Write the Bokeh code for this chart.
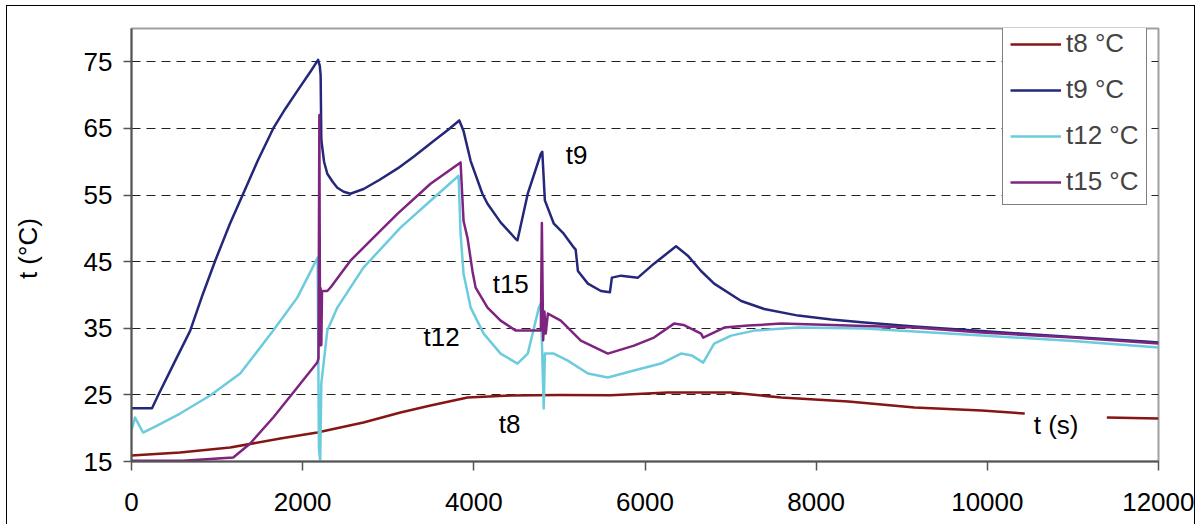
import numpy as np
from bokeh.plotting import figure
from bokeh.models import Range1d, Legend, LegendItem, Label
from bokeh.embed import file_html
from bokeh.resources import INLINE

# ---------------- data ----------------
t8_time = [0, 568, 1153, 1739, 2170, 2710, 3143, 3494, 3927, 4431, 5000, 5600, 6268, 7007,
           7592, 8376, 9149, 9933, 10437, 10900, 11396, 12000]
t8_temp = [15.9, 16.35, 17.1, 18.45, 19.35, 20.85, 22.35, 23.4, 24.6, 24.9, 25.0, 24.95, 25.35, 25.35,
           24.6, 24.0, 23.1, 22.65, 22.2, float("nan"), 21.6, 21.45]

t9_time = [0, 240, 310, 500, 685, 830, 977, 1150, 1305, 1480, 1656, 1800, 1936, 2100, 2180, 2200, 2210,
           2218, 2250, 2288, 2350, 2405, 2480, 2557, 2712, 2900, 3110, 3300, 3530, 3700, 3830, 3880,
           3963, 4100, 4160, 4313, 4490, 4510, 4630, 4783, 4800, 4830, 4935, 5050, 5170, 5190, 5216,
           5333, 5485, 5590, 5613, 5720, 5918, 6105, 6363, 6500, 6655, 6808, 7124, 7393, 7790, 8177,
           8563, 9149, 9933, 10500, 11000, 11843, 12000]
t9_temp = [23, 23, 24.9, 29.85, 34.6, 40.0, 45.1, 50.7, 55.2, 60.3, 65, 68, 70.6, 73.7, 75.3, 74.4, 73,
           63.3, 60, 58.2, 57, 56.1, 55.5, 55.2, 55.9, 57.3, 59, 60.8, 63.1, 64.8, 66.2, 64.6,
           60.1, 55.2, 53.7, 50.9, 48.4, 48.2, 55.2, 61.2, 61.5, 54.2, 50.7, 49.2, 47.1, 46.8, 43.6,
           41.7, 40.6, 40.4, 42.6, 42.9, 42.6, 44.7, 47.3, 45.9, 43.6, 41.7, 39.1, 37.9, 36.9, 36.3,
           35.85, 35.25, 34.6, 34.1, 33.7, 33.0, 32.85]

t12_time = [0, 41, 135, 299, 568, 919, 1270, 1656, 1937, 2175, 2190, 2205, 2218, 2288, 2405, 2710,
            3143, 3494, 3822, 3845, 3880, 3963, 4115, 4313, 4510, 4630, 4760, 4783, 4817, 4830,
            4935, 5098, 5333, 5566, 5871, 6187, 6421, 6550, 6680, 6808, 7007, 7276, 7790, 8563,
            9933, 11000, 12000]
t12_temp = [19.65, 21.6, 19.35, 20.4, 22.2, 24.9, 28.2, 34.65, 39.6, 45.6, 17.0, 15.1, 26.7, 34.65,
            38.1, 44.1, 50.1, 54.15, 57.9, 49.2, 43.2, 38.1, 34.2, 31.2, 29.7, 31.2, 38.1, 38.7,
            22.95, 31.2, 31.2, 30.15, 28.2, 27.6, 28.65, 29.7, 31.2, 30.9, 29.85, 32.7, 33.9,
            34.65, 35.1, 34.95, 33.9, 33.1, 32.1]

t15_time = [0, 600, 1189, 1387, 1656, 1937, 2170, 2185, 2195, 2203, 2210, 2218, 2226, 2240, 2288,
            2330, 2558, 2792, 3110, 3494, 3845, 3880, 3927, 3985, 4021, 4160, 4313, 4490, 4783,
            4795, 4810, 4825, 4840, 4865, 5016, 5250, 5566, 5871, 6105, 6339, 6450, 6655, 6680,
            6926, 7205, 7592, 8376, 9149, 9933, 11000, 12000]
t15_temp = [15.1, 15.1, 15.6, 17.7, 21.6, 26.1, 29.85, 30.5, 67, 32.4, 41, 32.5, 40.5, 40.6, 40.6,
            41.2, 45.15, 48.15, 52.2, 56.7, 59.9, 51.1, 48.5, 43.5, 41.1, 38.1, 36.15, 34.65, 34.65,
            50.8, 33.2, 37.5, 34.2, 37.2, 36.15, 33.15, 31.2, 32.4, 33.6, 35.7, 35.5, 34.2, 33.6,
            35.1, 35.4, 35.7, 35.4, 35.1, 34.35, 33.6, 32.7]

series_names = ["t8 °C", "t9 °C", "t12 °C", "t15 °C"]
series_colors = ["#861515", "#25287a", "#6ccbdc", "#7e2480"]

x_ticks = [0, 2000, 4000, 6000, 8000, 10000, 12000]
y_ticks = [15, 25, 35, 45, 55, 65, 75]

# in-plot annotation texts (data coordinates: left, baseline)
note_texts = ["t9", "t15", "t12", "t8", "t (s)"]
note_x = [5075, 4220, 3413, 4290, 10542]
note_y = [61.05, 41.7, 33.75, 20.7, 20.55]

FONT = "Liberation Sans"

p = figure(width=1187, height=520, output_backend="svg", toolbar_location=None,
           x_range=Range1d(0, 12000), y_range=Range1d(15, 80),
           min_border_left=124, min_border_right=36, min_border_top=22, min_border_bottom=65,
           background_fill_color="white", border_fill_color="white")
p.styles = {"outline": "1px solid black", "margin-left": "7px", "margin-top": "6px"}

p.outline_line_color = "#a0a0a0"
p.outline_line_width = 2

p.xgrid.visible = False
p.ygrid.ticker = y_ticks
p.ygrid.grid_line_color = "#222222"
p.ygrid.grid_line_width = 1
p.ygrid.grid_line_dash = "9 6"

p.xaxis.ticker = x_ticks
p.yaxis.ticker = y_ticks
for ax in (p.xaxis, p.yaxis):
    ax.axis_line_color = "#555555"
    ax.axis_line_width = 2
    ax.major_tick_line_color = "#555555"
    ax.major_tick_line_width = 1.5
    ax.major_tick_in = 0
    ax.minor_tick_line_color = None
    ax.major_label_text_font = FONT
    ax.major_label_text_font_size = "26px"
    ax.major_label_text_color = "black"
p.xaxis.major_tick_out = 9
p.yaxis.major_tick_out = 8
p.xaxis.major_label_standoff = 22
p.yaxis.major_label_standoff = 11
p.yaxis.axis_label = "t  (°C)"
p.yaxis.axis_label_text_font = FONT
p.yaxis.axis_label_text_font_size = "26px"
p.yaxis.axis_label_text_font_style = "normal"
p.yaxis.axis_label_text_color = "black"
p.yaxis.axis_label_standoff = 38

times = [t8_time, t9_time, t12_time, t15_time]
temps = [t8_temp, t9_temp, t12_temp, t15_temp]
items = []
for name, col, tt, vv in zip(series_names, series_colors, times, temps):
    r = p.line(np.array(tt, dtype=float), np.array(vv, dtype=float),
               line_color=col, line_width=2.5, line_join="round")
    items.append(LegendItem(label=name, renderers=[r]))

legend = Legend(items=items, location=(871, 256), margin=0, padding=7, spacing=15,
                glyph_width=51, glyph_height=22, label_standoff=5,
                label_text_font=FONT, label_text_font_size="26px",
                border_line_color="black", border_line_width=1,
                background_fill_color="white", background_fill_alpha=1)
p.add_layout(legend)

for txt, nx, ny in zip(note_texts, note_x, note_y):
    p.add_layout(Label(x=nx, y=ny, text=txt, text_font=FONT, text_font_size="26px",
                       text_color="black", text_baseline="alphabetic", text_align="left"))

open("out.html", "w").write(file_html(p, INLINE))
